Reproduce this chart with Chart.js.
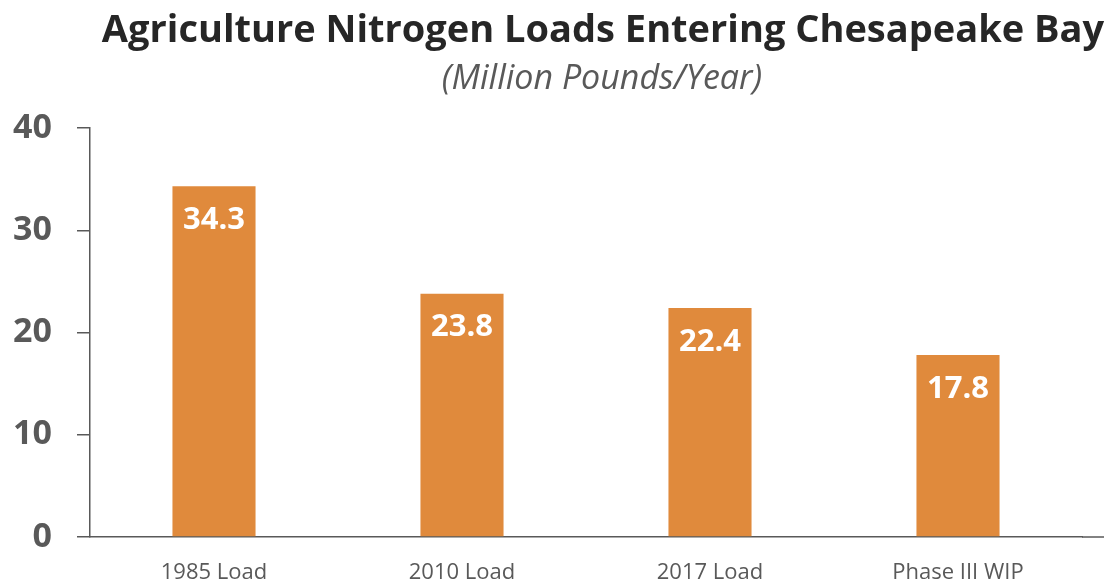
<!DOCTYPE html>
<html>
<head>
<meta charset="utf-8">
<script src="https://cdn.jsdelivr.net/npm/chart.js@4/dist/chart.umd.min.js"></script>
<style>
  html, body { margin: 0; padding: 0; background: #fff; }
  #wrap { width: 1110px; height: 587px; position: relative; }
</style>
</head>
<body>
<div id="wrap"><canvas id="loadChart"></canvas></div>
<script>
// Chart data
const categories = ['1985 Load', '2010 Load', '2017 Load', 'Phase III WIP'];
const nitrogenLoads = [34.3, 23.8, 22.4, 17.8];
const yTicks = [0, 10, 20, 30, 40];

const titleText = 'Agriculture Nitrogen Loads Entering Chesapeake Bay';
const subtitleText = '(Million Pounds/Year)';

const barColor = '#E08A3C';
const axisGray = '#595959';

// Draws the title block, the value labels inside bars, and the axis tail
const decorPlugin = {
    id: 'decor',
    afterDraw(chart) {
        const ctx = chart.ctx;
        ctx.save();
        ctx.textAlign = 'center';
        ctx.textBaseline = 'middle';

        // Title, fitted to the reference width
        ctx.fillStyle = '#262626';
        ctx.font = 'bold 38px "Open Sans"';
        const tw = ctx.measureText(titleText).width;
        const maxW = 1005;
        if (tw > maxW) {
            ctx.font = 'bold ' + Math.floor(38 * maxW / tw) + 'px "Open Sans"';
        }
        ctx.fillText(titleText, 603, 31);

        // Subtitle
        ctx.fillStyle = '#595959';
        ctx.font = 'italic 34px "Open Sans"';
        ctx.fillText(subtitleText, 602, 79);

        // Value labels
        const meta = chart.getDatasetMeta(0);
        ctx.fillStyle = '#ffffff';
        ctx.font = 'bold 31px "Open Sans"';
        meta.data.forEach((bar, i) => {
            ctx.fillText(nitrogenLoads[i].toFixed(1), bar.x, bar.y + 34);
        });

        // x axis line runs a little past the last category
        const area = chart.chartArea;
        ctx.strokeStyle = axisGray;
        ctx.lineWidth = 1.5;
        ctx.beginPath();
        ctx.moveTo(area.right, area.bottom);
        ctx.lineTo(1104, area.bottom);
        ctx.stroke();
        ctx.restore();
    }
};

document.addEventListener('DOMContentLoaded', function() {
    const ctx = document.getElementById('loadChart').getContext('2d');
    new Chart(ctx, {
        type: 'bar',
        data: {
            labels: categories,
            datasets: [{
                data: nitrogenLoads,
                backgroundColor: barColor,
                borderWidth: 0,
                barPercentage: 0.335,
                categoryPercentage: 1.0
            }]
        },
        options: {
            responsive: true,
            maintainAspectRatio: false,
            animation: false,
            layout: {
                padding: { top: 128, right: 28, left: 0, bottom: 0 }
            },
            scales: {
                y: {
                    min: 0,
                    max: 40,
                    afterFit: function(scale) { scale.width = 90; },
                    afterBuildTicks: function(scale) {
                        scale.ticks = yTicks.map(v => ({ value: v }));
                    },
                    border: { color: axisGray, width: 1.5 },
                    grid: {
                        display: true,
                        drawOnChartArea: false,
                        drawTicks: true,
                        tickLength: 13,
                        color: axisGray,
                        lineWidth: 1.5
                    },
                    ticks: {
                        padding: 25,
                        color: axisGray,
                        font: { family: '"Open Sans"', size: 34, weight: 'bold' }
                    }
                },
                x: {
                    afterFit: function(scale) { scale.height = 50; },
                    border: { color: axisGray, width: 1.5 },
                    grid: { display: false, drawTicks: false },
                    ticks: {
                        padding: 23,
                        color: axisGray,
                        font: { family: '"Open Sans"', size: 22 }
                    }
                }
            },
            plugins: {
                legend: { display: false },
                tooltip: { enabled: false }
            }
        },
        plugins: [decorPlugin]
    });
});
</script>
</body>
</html>
